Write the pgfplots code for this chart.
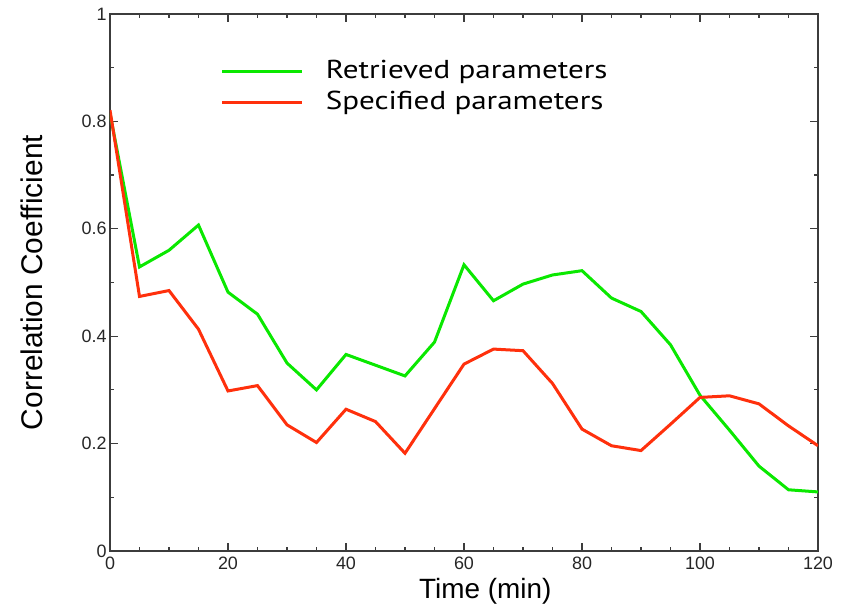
\documentclass[border=0pt]{standalone}
\usepackage{fontspec}
\setmainfont{Liberation Sans}
\newfontfamily\legfont[FakeStretch=1.2]{PT Sans}
\usepackage{pgfplots}
\pgfplotsset{compat=1.18}

\definecolor{retgreen}{RGB}{10,232,0}
\definecolor{specred}{RGB}{255,48,12}
\definecolor{axisgray}{RGB}{60,60,60}

\begin{document}
\begin{tikzpicture}
\begin{axis}[
  scale only axis,
  width=708bp, height=537bp,
  xmin=0, xmax=120, ymin=0, ymax=1,
  xtick={0,20,...,120},
  ytick={0,0.2,...,1},
  minor x tick num=3,
  minor y tick num=1,
  tick align=inside,
  major tick length=8bp,
  minor tick length=4bp,
  axis line style={axisgray, line width=1.6bp},
  tick style={axisgray, line width=1.2bp},
  /pgf/number format/assume math mode=true,
  ticklabel style={font=\fontsize{18}{20}\selectfont, text=black!85},
  yticklabel style={/pgf/number format/fixed, /pgf/number format/precision=1},
  xticklabel style={yshift=-2bp},
  xlabel={Time (min)},
  ylabel={Correlation Coefficient},
  xlabel style={font=\fontsize{28}{30}\selectfont, at={(axis description cs:0.530,-0.089)}, anchor=base},
  ylabel style={font=\fontsize{30}{32}\selectfont, at={(axis description cs:-0.110,0.5)}, anchor=center, rotate=0},
  legend style={draw=none, fill=none, at={(axis description cs:0.152,0.925)}, anchor=north west,
    font=\legfont\fontsize{26}{28}\selectfont,
    nodes={text height=20bp, text depth=7bp, inner sep=2bp},
    row sep=0bp, column sep=20bp},
  legend cell align=left,
  legend image code/.code={\draw[#1] (0bp,0bp) -- (80bp,0bp);},
]
\addplot[retgreen, line width=3bp] coordinates {
  (0,0.815) (5,0.529) (10,0.560) (15,0.607) (20,0.482) (25,0.441)
  (30,0.350) (35,0.300) (40,0.366) (45,0.346) (50,0.326) (55,0.389)
  (60,0.533) (65,0.466) (70,0.497) (75,0.514) (80,0.522) (85,0.471)
  (90,0.446) (95,0.384) (100,0.290) (105,0.225) (110,0.158) (115,0.114)
  (120,0.110)
};
\addlegendentry{Retrieved parameters}
\addplot[specred, line width=3bp] coordinates {
  (0,0.821) (5,0.474) (10,0.485) (15,0.413) (20,0.298) (25,0.308)
  (30,0.235) (35,0.202) (40,0.264) (45,0.241) (50,0.182) (55,0.265)
  (60,0.348) (65,0.376) (70,0.373) (75,0.312) (80,0.227) (85,0.196)
  (90,0.187) (95,0.236) (100,0.286) (105,0.289) (110,0.274) (115,0.233)
  (120,0.196)
};
\addlegendentry{Specified parameters}
\end{axis}
\path ([shift={(-110bp,-57bp)}]current axis.south west) rectangle ([shift={(25bp,14bp)}]current axis.north east);
\end{tikzpicture}
\end{document}
